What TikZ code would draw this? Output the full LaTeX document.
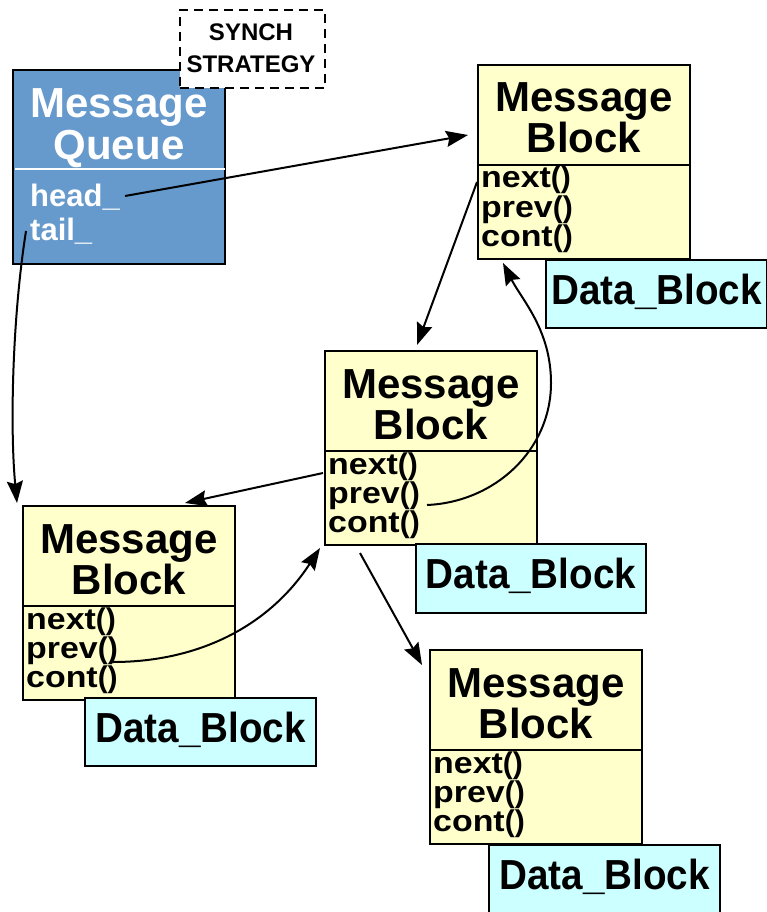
\documentclass[tikz,border=0pt]{standalone}
\usepackage{fontspec}
\setmainfont{Liberation Sans}
\usetikzlibrary{arrows.meta,calc}
\definecolor{qblue}{HTML}{6699CC}
\definecolor{mbyellow}{HTML}{FFFFCC}
\definecolor{dbcyan}{HTML}{CCFFFF}

% method label: slightly widened word followed by its parentheses
\newcommand\methodlabel[1]{\scalebox{1.13}[1]{#1}()}

% a Message_Block: yellow box, title, separator and its three methods
\newcommand\msgblock[3]{%
  \node[boxframe, fill=mbyellow, anchor=north west] (#1) at (#2,#3) {};
  \draw[line width=1.6pt] ([yshift=-101pt]#1.north west) -- ([yshift=-101pt]#1.north east);
  \node[titletext] (#1-ta) at ([yshift=-48pt]#1.north) {Message};
  \node[titletext] (#1-tb) at ([yshift=-89pt]#1.north) {Block};
  \node[methodtext] (#1-next) at ([xshift=4pt,yshift=-124pt]#1.north west) {\methodlabel{next}};
  \node[methodtext] (#1-prev) at ([xshift=4pt,yshift=-153pt]#1.north west) {\methodlabel{prev}};
  \node[methodtext] (#1-cont) at ([xshift=4pt,yshift=-182pt]#1.north west) {\methodlabel{cont}};
}

% a Data_Block: cyan box with its label
\newcommand\datablock[5]{%
  \node[draw=black, line width=2pt, fill=dbcyan, anchor=north west, inner sep=0,
        minimum width=#4, minimum height=#5] (#1) at (#2,#3) {};
  \node[datatext] (#1-t) at ([yshift=-45pt]#1.north) {\scalebox{0.92}[1]{Data\_Block}};
}

\begin{document}
\begin{tikzpicture}[x=1pt,y=-1pt,
  boxframe/.style={draw=black, line width=2pt, inner sep=0,
                   minimum width=212pt, minimum height=194pt},
  titletext/.style={font=\fontsize{42}{42}\selectfont\bfseries, anchor=base, inner sep=0},
  methodtext/.style={font=\fontsize{30}{30}\selectfont\bfseries, anchor=base west, inner sep=0},
  datatext/.style={font=\fontsize{42}{42}\selectfont\bfseries, anchor=base, inner sep=0},
  qtext/.style={font=\fontsize{31}{31}\selectfont\bfseries, text=white, anchor=base west, inner sep=0},
  synchtext/.style={font=\fontsize{24}{24}\selectfont\bfseries, anchor=base, inner sep=0},
  link/.style={line width=2pt, -{Stealth[length=22pt, width=16pt, inset=3pt]}}
]
\useasboundingbox (0,0) rectangle (767,912);

% ---------- Message_Queue ----------
\node[boxframe, fill=qblue, anchor=north west] (queue) at (12,69) {};
\draw[white, line width=1.3pt] ([xshift=3pt,yshift=-100pt]queue.north west) -- ([xshift=-1pt,yshift=-100pt]queue.north east);
\node[titletext, text=white] (queue-ta) at ([yshift=-49pt]queue.north) {Message};
\node[titletext, text=white] (queue-tb) at ([yshift=-91pt]queue.north) {Queue};
\node[qtext] (qhead) at (30,207) {head\_};
\node[qtext] (qtail) at (30,240) {tail\_};

% ---------- synchronisation strategy (template parameter) ----------
\node[draw=black, fill=white, line width=1.8pt, dash pattern=on 9pt off 6pt,
      anchor=north west, inner sep=0, minimum width=145pt, minimum height=78pt] (synch) at (179,9) {};
\node[synchtext] (synch-a) at (251,41) {SYNCH};
\node[synchtext] (synch-b) at (251,73) {STRATEGY};

% ---------- message blocks and their data blocks ----------
\msgblock{mb1}{477}{64}
\datablock{db1}{545}{259}{221pt}{68pt}

\msgblock{mb2}{324}{350}
\datablock{db2}{415}{543}{230pt}{69pt}

\msgblock{mb3}{22}{505}
\datablock{db3}{84}{697}{231pt}{68pt}

\msgblock{mb4}{429}{649}
\datablock{db4}{488}{844}{231pt}{70pt}

% ---------- link end points ----------
\coordinate (headfrom) at (125,196);
\coordinate (tailfrom) at (26,231);
\coordinate (mb1in)    at (468,135);
\coordinate (mb1out)   at (477,182);
\coordinate (mb1back)  at (503,263);
\coordinate (mb2in)    at (417,345);
\coordinate (mb2next)  at (323,473);
\coordinate (mb2prev)  at (427,505);
\coordinate (mb2back)  at (320,548);
\coordinate (mb2down)  at (360,553);
\coordinate (mb3in)    at (185,503);
\coordinate (mb3top)   at (17,503);
\coordinate (mb3prev)  at (113,662);
\coordinate (mb4in)    at (422,665);

% ---------- links ----------
\draw[link] (headfrom) -- (mb1in);
\draw[link] (tailfrom) .. controls (12,320) and (10,430) .. (mb3top);
\draw[link] (mb1out) -- (mb2in);
\draw[link] (mb2prev) .. controls (495,502) and (551,450) .. (551,383)
                      .. controls (551,330) and (522,300) .. (mb1back);
\draw[link] (mb2next) -- (mb3in);
\draw[link] (mb3prev) .. controls (200,662) and (270,625) .. (mb2back);
\draw[link] (mb2down) -- (mb4in);
\end{tikzpicture}
\end{document}
